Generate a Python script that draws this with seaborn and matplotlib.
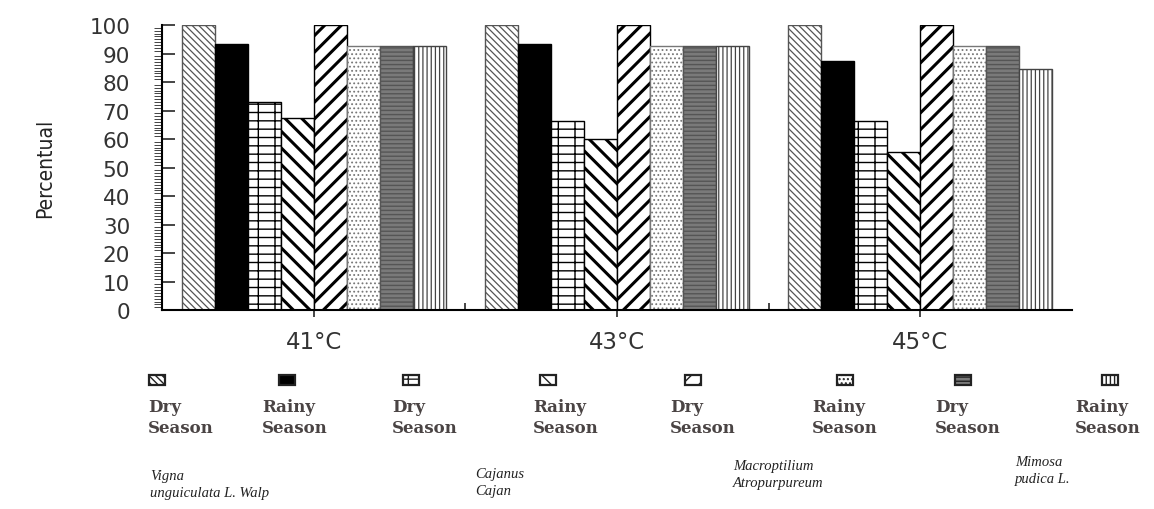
import numpy as np
import pandas as pd
import matplotlib
matplotlib.use("Agg")
import matplotlib.pyplot as plt
from matplotlib.patches import Rectangle
from matplotlib.ticker import MultipleLocator
import seaborn as sns

# ---- data ----
temperatures = ["41°C", "43°C", "45°C"]
series_keys = ["Vigna Dry", "Vigna Rainy", "Cajanus Dry", "Cajanus Rainy",
               "Macro Dry", "Macro Rainy", "Mimosa Dry", "Mimosa Rainy"]
season_labels = ["Dry\nSeason", "Rainy\nSeason"] * 4
species_labels = ["Vigna\nunguiculata L. Walp", "Cajanus\nCajan",
                  "Macroptilium\nAtropurpureum", "Mimosa\npudica L."]

vigna_dry = [100, 100, 100]
vigna_rainy = [93.5, 93.5, 87.5]
cajanus_dry = [73, 66.5, 66.5]
cajanus_rainy = [67.5, 60, 55.5]
macro_dry = [100, 100, 100]
macro_rainy = [92.5, 92.5, 92.5]
mimosa_dry = [92.5, 92.5, 92.5]
mimosa_rainy = [92.5, 92.5, 84.5]

values = [vigna_dry, vigna_rainy, cajanus_dry, cajanus_rainy,
          macro_dry, macro_rainy, mimosa_dry, mimosa_rainy]

df = pd.DataFrame({
    "temp": np.tile(temperatures, len(series_keys)),
    "series": np.repeat(series_keys, len(temperatures)),
    "pct": np.concatenate(values),
})

# face, edge(hatch colour), hatch, hatch linewidth
styles = [
    ("white", "#555555", "\\\\\\\\\\", 0.9),
    ("black", "black", None, 1.0),
    ("white", "black", "-+", 1.0),
    ("white", "black", "\\\\", 2.2),
    ("white", "black", "//", 2.2),
    ("white", "#777777", "....", 0.8),
    ("#7a7a7a", "#555555", "----", 1.0),
    ("white", "#444444", "||||", 0.9),
]

sns.set_theme(style="white")
plt.rcParams["font.family"] = ["DejaVu Sans"]

fig = plt.figure(figsize=(11.54, 5.10), dpi=100)
ax = fig.add_axes([0.1404, 0.390, 0.7886, 0.559])

sns.barplot(data=df, x="temp", y="pct", hue="series", order=temperatures,
            hue_order=series_keys, width=0.87, gap=0, dodge=True,
            legend=False, ax=ax, errorbar=None, saturation=1)

for cont, (fc, ec, hatch, hlw) in zip(ax.containers, styles):
    for bar in cont:
        bar.set_facecolor(fc)
        bar.set_edgecolor(ec)
        bar.set_linewidth(1.0)
        if hatch:
            bar.set_hatch(hatch)
        if hasattr(bar, "set_hatch_linewidth"):
            bar.set_hatch_linewidth(hlw)

ax.set_ylim(0, 100)
ax.set_xlim(-0.5, 2.5)
ax.yaxis.set_major_locator(MultipleLocator(10))
ax.yaxis.set_minor_locator(MultipleLocator(1))
ax.set_xticks([0.5, 1.5], minor=True)
ax.tick_params(axis="y", which="major", direction="in", length=9, width=1.2,
               pad=23, labelsize=15.5, left=True)
ax.tick_params(axis="y", which="minor", direction="out", length=6, width=0.6,
               left=True)
ax.tick_params(axis="x", which="major", direction="out", length=5, width=1.2,
               pad=9, labelsize=16.5, bottom=True)
ax.tick_params(axis="x", which="minor", direction="in", length=5, width=1.2,
               bottom=True)
for lab in ax.get_yticklabels() + ax.get_xticklabels():
    lab.set_color("#333333")

for s in ["top", "right"]:
    ax.spines[s].set_visible(False)
for s in ["left", "bottom"]:
    ax.spines[s].set_color("black")
    ax.spines[s].set_linewidth(1.5)

ax.set_xlabel("")
ax.set_ylabel("Percentual", fontsize=15, fontstretch="condensed", color="#222222")
ax.yaxis.set_label_coords(-0.118, 0.5)

# ---- legend drawn below the axes ----
W, H = 1154, 510
marker_x = [157, 287, 411, 548, 693, 845, 963, 1110]
text_x = [148, 262, 392, 533, 670, 812, 935, 1075]
for (fc, ec, hatch, hlw), mx, tx, lab in zip(styles, marker_x, text_x, season_labels):
    r = Rectangle(((mx - 8) / W, 1 - 386 / H), 16 / W, 10 / H,
                  transform=fig.transFigure, facecolor=fc, edgecolor="#222222",
                  linewidth=1.6, hatch=hatch)
    fig.add_artist(r)
    fig.text(tx / W, 1 - 399 / H, lab, ha="left", va="top", fontsize=12,
             color="#4a4444", weight="bold", family=["DejaVu Serif"],
             linespacing=1.3)

species_pos = [(150, 470), (475, 468), (733, 460), (1015, 456)]
for (sx, sy), lab in zip(species_pos, species_labels):
    fig.text(sx / W, 1 - sy / H, lab, ha="left", va="top", fontsize=10.5,
             style="italic", color="#222222",
             family=["Liberation Serif", "DejaVu Serif"], linespacing=1.45)

fig.savefig("out.png", dpi=100)
